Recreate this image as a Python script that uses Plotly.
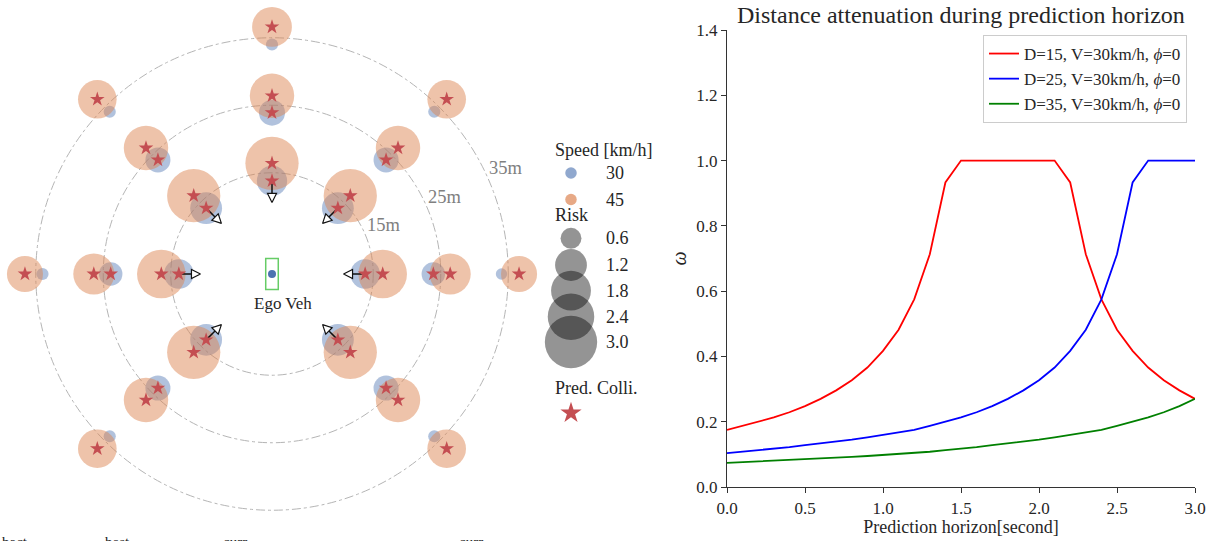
import math
import plotly.graph_objects as go

FONT = "Liberation Serif, Times New Roman, serif"

# ---------------- Left panel data ----------------
directions = ["N", "NE", "E", "SE", "SW", "W", "NW"]
direction_deg = [90, 45, 0, -45, -135, 180, 135]
ring_dist = [15, 25, 35]
ring_labels = ["15m", "25m", "35m"]
ring_label_deg = 25
speed_labels = ["30", "45"]
# radial distance (m) of the predicted collision point, per ring
coll_dist_30 = [13.8, 23.9, 34.0]
coll_dist_45 = [16.4, 26.4, 36.6]
# risk per ring (rows) and direction (cols: N, NE, E, SE, SW, W, NW)
risk_30 = [[1.1, 1.2, 1.05, 1.2, 1.2, 1.05, 1.2],
           [0.85, 0.8, 0.72, 0.8, 0.8, 0.72, 0.8],
           [0.3, 0.3, 0.28, 0.3, 0.3, 0.3, 0.3]]
risk_45 = [[3.1, 3.1, 2.6, 3.1, 3.1, 2.6, 3.1],
           [2.2, 2.2, 1.9, 2.2, 2.2, 1.9, 2.2],
           [1.8, 1.7, 1.5, 1.7, 1.7, 1.5, 1.7]]
pred_colli_30 = [[1, 1, 1, 1, 1, 1, 1],
                 [1, 1, 1, 1, 1, 1, 1],
                 [0, 0, 0, 0, 0, 0, 0]]
pred_colli_45 = [[1, 1, 1, 1, 1, 1, 1],
                 [1, 1, 1, 1, 1, 1, 1],
                 [1, 1, 1, 1, 1, 1, 1]]
arrow_ring = 15
arrow_len_m = 3.2
risk_legend = [0.6, 1.2, 1.8, 2.4, 3.0]
ego_size_m = [1.86, 4.6]

# ---------------- Right panel data ----------------
horizon_s = [0.0, 0.1, 0.2, 0.3, 0.4, 0.5, 0.6, 0.7, 0.8, 0.9, 1.0,
             1.1, 1.2, 1.3, 1.4, 1.5, 1.6, 1.7, 1.8, 1.9, 2.0,
             2.1, 2.2, 2.3, 2.4, 2.5, 2.6, 2.7, 2.8, 2.9, 3.0]
omega_d15 = [0.175, 0.187, 0.200, 0.213, 0.229, 0.248, 0.270, 0.296, 0.327, 0.366, 0.417,
             0.482, 0.575, 0.713, 0.933, 1.0, 1.0, 1.0, 1.0, 1.0, 1.0,
             1.0, 0.933, 0.713, 0.575, 0.482, 0.417, 0.366, 0.327, 0.296, 0.270]
omega_d25 = [0.104, 0.108, 0.113, 0.117, 0.122, 0.128, 0.133, 0.139, 0.145, 0.152, 0.159,
             0.167, 0.175, 0.187, 0.200, 0.213, 0.229, 0.248, 0.270, 0.296, 0.327,
             0.366, 0.417, 0.482, 0.575, 0.713, 0.933, 1.0, 1.0, 1.0, 1.0]
omega_d35 = [0.074, 0.076, 0.078, 0.080, 0.082, 0.084, 0.087, 0.089, 0.092, 0.095, 0.098,
             0.101, 0.104, 0.108, 0.113, 0.117, 0.122, 0.128, 0.133, 0.139, 0.145,
             0.152, 0.159, 0.167, 0.175, 0.187, 0.200, 0.213, 0.229, 0.248, 0.270]
series_names = ["D=15, V=30km/h, <i>ϕ</i>=0", "D=25, V=30km/h, <i>ϕ</i>=0", "D=35, V=30km/h, <i>ϕ</i>=0"]
series_colors = ["#ff0000", "#0000ff", "#008000"]

# ---------------- styling constants ----------------
C30 = "rgba(76,114,176,0.62)"
C45 = "rgba(221,132,82,0.7)"
STAR = "#c44e52"
TXT = "#262626"
PX_PER_M = 6.75
EGO_PX = (272, 274)
W, H = 1216, 541


def risk_diam(r):
    return 2 * math.sqrt(max(240 * r - 35, 4))


def pol(d, deg):
    a = math.radians(deg)
    return d * math.cos(a), d * math.sin(a)


fig = go.Figure()

# vehicle risk circles
for dists, risks, color in [(coll_dist_30, risk_30, C30), (coll_dist_45, risk_45, C45)]:
    xs, ys, ss = [], [], []
    for i in range(len(ring_dist)):
        for j, deg in enumerate(direction_deg):
            x, y = pol(dists[i], deg)
            xs.append(x); ys.append(y); ss.append(risk_diam(risks[i][j]))
    fig.add_trace(go.Scatter(x=xs, y=ys, mode="markers", showlegend=False, cliponaxis=False,
                             marker=dict(size=ss, color=color, line=dict(width=0)),
                             xaxis="x", yaxis="y", hoverinfo="skip"))

# arrows (heading toward ego) for the nearest ring, speed 30
ai = ring_dist.index(arrow_ring)
lx, ly, hx, hy, hang = [], [], [], [], []
head_m = 9 / PX_PER_M
for j, deg in enumerate(direction_deg):
    x0, y0 = pol(coll_dist_30[ai], deg)
    ux, uy = -math.cos(math.radians(deg)), -math.sin(math.radians(deg))
    tx, ty = x0 + arrow_len_m * ux, y0 + arrow_len_m * uy
    lx += [x0, tx - head_m * ux, None]
    ly += [y0, ty - head_m * uy, None]
    hx.append(tx); hy.append(ty); hang.append(-90 - deg)
fig.add_trace(go.Scatter(x=lx, y=ly, mode="lines", line=dict(color="#111", width=1.5),
                         showlegend=False, xaxis="x", yaxis="y", hoverinfo="skip"))
fig.add_trace(go.Scatter(x=hx, y=hy, mode="markers", showlegend=False, xaxis="x", yaxis="y",
                         marker=dict(symbol="arrow-up", size=9, angle=hang, color="white",
                                     line=dict(color="#111", width=1.2)), hoverinfo="skip"))

# predicted collision stars
sx, sy = [], []
for dists, flags in [(coll_dist_30, pred_colli_30), (coll_dist_45, pred_colli_45)]:
    for i in range(len(ring_dist)):
        for j, deg in enumerate(direction_deg):
            if flags[i][j]:
                x, y = pol(dists[i], deg)
                sx.append(x); sy.append(y)
fig.add_trace(go.Scatter(x=sx, y=sy, mode="markers", showlegend=False, xaxis="x", yaxis="y",
                         marker=dict(symbol="star", size=11, color=STAR, line=dict(width=0)),
                         hoverinfo="skip"))

# ego vehicle
fig.add_trace(go.Scatter(x=[0], y=[0], mode="markers", showlegend=False, xaxis="x", yaxis="y",
                         marker=dict(size=8, color="#4c72b0"), hoverinfo="skip"))

shapes = []
for d in ring_dist:
    shapes.append(dict(type="circle", xref="x", yref="y", x0=-d, x1=d, y0=-d, y1=d,
                       line=dict(color="#b5b5b5", width=1, dash="dashdot"), layer="below"))
shapes.append(dict(type="rect", xref="x", yref="y", x0=-ego_size_m[0] / 2, x1=ego_size_m[0] / 2,
                   y0=-ego_size_m[1] / 2, y1=ego_size_m[1] / 2, line=dict(color="#66cc66", width=1.5)))

annotations = []
annotations.append(dict(x=1.6, y=-4.3, xref="x", yref="y", text="Ego Veh", showarrow=False,
                        font=dict(size=17, color=TXT, family=FONT)))
for d, lab in zip(ring_dist, ring_labels):
    x, y = pol(d, ring_label_deg)
    annotations.append(dict(x=x, y=y, xref="x", yref="y", text=lab, showarrow=False,
                            xanchor="left", yanchor="middle", xshift=1, yshift=6,
                            font=dict(size=18.5, color="#808080", family=FONT)))

# ---------------- left legend (pixel axes x3/y3) ----------------
LG_X_TXT, LG_X_MK, LG_X_LAB = 553, 571, 604
speed_rows = [173, 199.5]
risk_rows = [238.3, 265, 290.7, 316.7, 342]
fig.add_trace(go.Scatter(x=[LG_X_MK] * 2, y=speed_rows, mode="markers", showlegend=False,
                         xaxis="x3", yaxis="y3", marker=dict(size=11.5, color=[C30, C45]), hoverinfo="skip"))
fig.add_trace(go.Scatter(x=[LG_X_MK] * len(risk_legend), y=risk_rows, mode="markers", showlegend=False,
                         xaxis="x3", yaxis="y3", cliponaxis=False,
                         marker=dict(size=[risk_diam(r) for r in risk_legend], color="rgba(0,0,0,0.6)",
                                     line=dict(width=0)), hoverinfo="skip"))
fig.add_trace(go.Scatter(x=[LG_X_MK], y=[413], mode="markers", showlegend=False, xaxis="x3", yaxis="y3",
                         marker=dict(symbol="star", size=16, color=STAR, line=dict(width=0)), hoverinfo="skip"))
lg_texts = [(LG_X_TXT, 150, "Speed [km/h]"), (LG_X_TXT, 215, "Risk"), (LG_X_TXT, 388, "Pred. Colli.")]
lg_texts += [(LG_X_LAB, y, s) for y, s in zip(speed_rows, speed_labels)]
lg_texts += [(LG_X_LAB, y, f"{r:.1f}") for y, r in zip(risk_rows, risk_legend)]
for x, y, s in lg_texts:
    annotations.append(dict(x=x, y=y, xref="x3", yref="y3", text=s, showarrow=False, xanchor="left",
                            yanchor="middle", font=dict(size=18, color=TXT, family=FONT)))

# cut-off labels at the bottom edge
for px, s in [(0, "bact"), (103, "best"), (221, "curr"), (457, "curr")]:
    annotations.append(dict(x=px / W, y=(H - 532) / H, xref="paper", yref="paper", text=s, showarrow=False,
                            xanchor="left", yanchor="top", font=dict(size=15, color=TXT, family=FONT)))

# ---------------- right panel ----------------
for ys, name, col in zip([omega_d15, omega_d25, omega_d35], series_names, series_colors):
    fig.add_trace(go.Scatter(x=horizon_s, y=ys, mode="lines", name=name, line=dict(color=col, width=1.8),
                             xaxis="x2", yaxis="y2"))

annotations.append(dict(x=961 / W, y=(H - 15) / H, xref="paper", yref="paper",
                        text="Distance attenuation during prediction horizon", showarrow=False,
                        xanchor="center", yanchor="middle", font=dict(size=24, color=TXT, family=FONT)))

axis_common = dict(showline=True, linecolor="#333", linewidth=1.2, ticks="outside", ticklen=5,
                   tickwidth=1.2, tickcolor="#333", showgrid=False, zeroline=False, automargin=False,
                   tickfont=dict(size=17, color=TXT, family=FONT), tickformat=".1f")
hidden = dict(visible=False, fixedrange=True, automargin=False)

fig.update_layout(
    width=W, height=H, margin=dict(l=0, r=0, t=0, b=0, pad=0, autoexpand=False),
    paper_bgcolor="white", plot_bgcolor="white",
    font=dict(family=FONT, size=17, color=TXT),
    xaxis=dict(domain=[0, 540 / W], range=[(0 - EGO_PX[0]) / PX_PER_M, (540 - EGO_PX[0]) / PX_PER_M], **hidden),
    yaxis=dict(domain=[0, 1], range=[(EGO_PX[1] - H) / PX_PER_M, EGO_PX[1] / PX_PER_M], **hidden),
    xaxis2=dict(domain=[727 / W, 1195 / W], range=[0, 3], anchor="y2", dtick=0.5,
                title=dict(text="Prediction horizon[second]", font=dict(size=18, color=TXT, family=FONT),
                           standoff=0), **axis_common),
    yaxis2=dict(domain=[(H - 487) / H, (H - 30) / H], range=[0, 1.4], anchor="x2", dtick=0.2,
                title=dict(text="<i>ω</i>", font=dict(size=20, color=TXT, family=FONT), standoff=4),
                **axis_common),
    xaxis3=dict(domain=[540 / W, 681 / W], range=[540, 681], **hidden),
    yaxis3=dict(domain=[0, 1], range=[H, 0], **hidden),
    legend=dict(x=1187 / W, xanchor="right", y=(H - 35) / H, yanchor="top", bordercolor="#cccccc",
                borderwidth=1, bgcolor="white", font=dict(size=17, color=TXT, family=FONT),
                tracegroupgap=0),
    shapes=shapes, annotations=annotations,
)

fig.write_html("out.html", config={"displayModeBar": False},
               post_script="document.body.style.margin='0px';")
